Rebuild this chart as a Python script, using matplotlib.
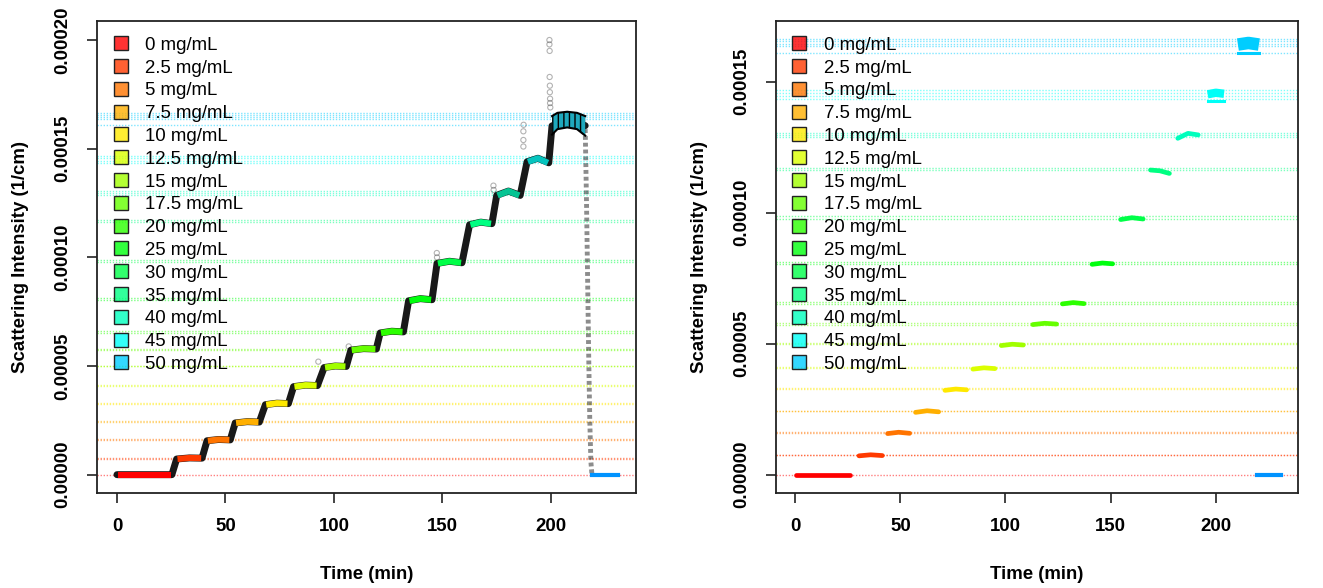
import colorsys
import matplotlib.pyplot as plt
from matplotlib.lines import Line2D

plt.rcParams['font.family'] = ['Liberation Sans', 'DejaVu Sans']

conc = ['0', '2.5', '5', '7.5', '10', '12.5', '15', '17.5', '20', '25', '30', '35', '40', '45', '50']
labels = [c + ' mg/mL' for c in conc]

# rainbow palette, one hue per concentration plus one for the buffer run at the end
cols = [colorsys.hsv_to_rgb(i * 13.7 / 360, 1, 1) for i in range(16)]

# dotted reference levels per concentration (1e-5 1/cm)
ref_levels = [
    [0.0],
    [0.74, 0.77],
    [1.60, 1.64],
    [2.42, 2.45],
    [3.27, 3.30],
    [4.08, 4.12],
    [4.98, 5.02],
    [5.72, 5.78],
    [6.51, 6.60],
    [8.04, 8.13],
    [9.77, 9.87],
    [11.63, 11.72],
    [12.88, 12.97, 13.05],
    [14.33, 14.45, 14.58, 14.67],
    [16.10, 16.35, 16.45, 16.55, 16.65],
]

# left panel: full trace, plateau start / end times (min) and levels (1e-5 1/cm)
l_t0 = [0.0, 27.5, 41.5, 54.5, 68.4, 81.4, 95.5, 107.8, 121.3, 134.4, 147.5, 162.5, 175.0, 189.0, 200.5]
l_t1 = [25.3, 39.2, 52.2, 65.6, 79.0, 92.4, 105.7, 119.5, 132.0, 145.2, 159.0, 172.8, 185.8, 199.0, 215.8]
l_y0 = [0.0, 0.72, 1.56, 2.38, 3.22, 4.05, 4.93, 5.73, 6.52, 8.00, 9.72, 11.50, 12.85, 14.40, 16.05]
l_ym = [0.0, 0.77, 1.62, 2.44, 3.29, 4.12, 5.00, 5.80, 6.60, 8.10, 9.82, 11.62, 13.05, 14.56, 16.33]
l_y1 = [0.0, 0.76, 1.60, 2.42, 3.27, 4.10, 4.98, 5.78, 6.57, 8.05, 9.75, 11.55, 12.85, 14.35, 16.06]

# 50 mg/mL band in the left panel
band_t = [200.5, 203.0, 207.5, 212.0, 215.8]
band_hi = [16.50, 16.65, 16.70, 16.65, 16.50]
band_lo = [15.65, 15.90, 15.98, 15.90, 15.60]

# drop back to buffer and the buffer run
drop_t = [215.8, 216.4, 216.9, 217.4, 217.9, 218.4, 218.9]
drop_y = [15.9, 12.5, 9.0, 5.5, 2.5, 0.6, 0.0]
buf_t = [218.9, 230.7]
buf_y = [0.0, 0.0]

# stray points
spike_t = [92.8, 106.8, 147.4, 147.5, 173.5, 173.6, 187.3, 187.3, 187.3, 187.4,
           199.3, 199.3, 199.4, 199.4, 199.5, 199.5, 199.6, 199.6, 199.7]
spike_y = [5.2, 5.9, 10.2, 10.0, 13.3, 13.1, 15.1, 15.4, 15.8, 16.1,
           20.0, 19.8, 19.5, 18.3, 17.9, 17.6, 17.3, 17.1, 16.9]

# right panel: selected segments
r_t0 = [0.5, 30.3, 43.9, 57.2, 71.2, 84.5, 98.0, 113.0, 127.1, 141.2, 154.8, 169.0, 182.0, 196.2, 210.6]
r_t1 = [25.8, 41.4, 54.4, 68.2, 81.5, 95.0, 108.5, 124.3, 137.4, 151.0, 165.5, 178.0, 191.7, 204.0, 220.6]
r_y0 = [0.0, 0.72, 1.57, 2.38, 3.22, 4.03, 4.93, 5.73, 6.52, 8.03, 9.74, 11.63, 12.84, 14.52, 16.42]
r_ym = [0.0, 0.76, 1.62, 2.44, 3.27, 4.08, 4.98, 5.78, 6.57, 8.08, 9.81, 11.60, 13.03, 14.58, 16.48]
r_y1 = [0.0, 0.73, 1.58, 2.40, 3.24, 4.05, 4.95, 5.75, 6.53, 8.05, 9.76, 11.50, 12.97, 14.54, 16.42]
r_thin_t = [[196.2, 204.0], [210.6, 220.6]]
r_thin_y = [14.28, 16.08]
r_buf_t = [219.5, 231.0]

E = 1e-5
xticks = [0, 50, 100, 150, 200]


def style_axes(ax, yticks, ylim):
    ax.set_xlim(-9.2, 239.2)
    ax.set_ylim(ylim)
    ax.set_xticks(xticks)
    ax.set_yticks(yticks)
    ax.set_yticklabels(['%.5f' % v for v in yticks])
    ax.tick_params(length=7.5, width=1.2, pad=11, labelsize=13.4, color='#222')
    plt.setp(ax.get_xticklabels(), fontweight='bold')
    plt.setp(ax.get_yticklabels(), fontweight='bold', rotation=90, va='center')
    for s in ax.spines.values():
        s.set_linewidth(1.3)
        s.set_color('#222')
    ax.set_xlabel('Time (min)', fontsize=13.4, fontweight='bold')
    ax.set_ylabel('Scattering Intensity (1/cm)', fontsize=13.4, fontweight='bold')
    for k, lv in enumerate(ref_levels):
        for v in lv:
            ax.axhline(v * E, color=cols[k], ls=(0, (1, 1.2)), lw=1.0, alpha=0.5, zorder=1)
    handles = [Line2D([], [], ls='none', marker='s', ms=9.5, mfc=cols[k] + (0.8,),
                      mec='#222', mew=1.0) for k in range(len(labels))]
    ax.legend(handles, labels, loc='upper left', bbox_to_anchor=(0.027, 0.966),
              frameon=False, fontsize=13.4, borderaxespad=0, borderpad=0,
              handlelength=1.0, handletextpad=0.81, labelspacing=0.31)


fig = plt.figure(figsize=(13.23, 5.88), dpi=100)
ax1 = fig.add_axes([97 / 1323, 95.3 / 588, 539 / 1323, 472 / 588])
ax2 = fig.add_axes([776 / 1323, 95.3 / 588, 522 / 1323, 472 / 588])

# ---- left: raw trace
tr_t, tr_y = [], []
for k in range(len(l_t0)):
    tr_t += [l_t0[k], (l_t0[k] + l_t1[k]) / 2, l_t1[k]]
    tr_y += [l_y0[k], l_ym[k], l_y1[k]]
ax1.plot(tr_t, [v * E for v in tr_y], color='black', lw=5.0, alpha=0.9,
         solid_capstyle='round', zorder=2)
ax1.plot(drop_t, [v * E for v in drop_y], color='black', lw=3.5, alpha=0.45,
         ls=(0, (0.8, 0.6)), zorder=2)
ax1.scatter(spike_t, [v * E for v in spike_y], s=14, facecolor='none',
            edgecolor='black', alpha=0.3, lw=0.8, zorder=2)
for k in range(len(l_t0) - 1):
    ax1.plot([l_t0[k] + 0.4, (l_t0[k] + l_t1[k]) / 2, l_t1[k] - 0.4],
             [l_y0[k] * E, l_ym[k] * E, l_y1[k] * E],
             color=cols[k], lw=4.4, alpha=0.75 if k >= 12 else 1.0,
             solid_capstyle='butt', zorder=3)
ax1.fill_between(band_t, [v * E for v in band_lo], [v * E for v in band_hi],
                 facecolor='#1fa9bd', edgecolor='black', hatch='|||', lw=0, zorder=3)
ax1.plot(band_t, [v * E for v in band_hi], color='black', lw=1.5, zorder=3)
ax1.plot(band_t, [v * E for v in band_lo], color='black', lw=1.5, zorder=3)
ax1.plot(buf_t, buf_y, color=cols[15], lw=3.0, zorder=3)
style_axes(ax1, [0, 5e-5, 1e-4, 1.5e-4, 2e-4], (-0.83e-5, 20.89e-5))

# ---- right: selected plateau segments
for k in range(len(r_t0)):
    lw, cap = 3.4, 'round'
    if k == 13:
        lw, cap = 6.0, 'butt'
    elif k == 14:
        lw, cap = 9.0, 'butt'
    ax2.plot([r_t0[k], (r_t0[k] + r_t1[k]) / 2, r_t1[k]],
             [r_y0[k] * E, r_ym[k] * E, r_y1[k] * E],
             color=cols[k], lw=lw, solid_capstyle=cap, zorder=3)
for tt, yy, k in zip(r_thin_t, r_thin_y, [13, 14]):
    ax2.plot(tt, [yy * E, yy * E], color=cols[k], lw=2.2, zorder=3)
ax2.plot(r_buf_t, [0, 0], color=cols[15], lw=3.0, zorder=3)
style_axes(ax2, [0, 5e-5, 1e-4, 1.5e-4], (-0.687e-5, 17.33e-5))

for ax, off in ((ax1, 539), (ax2, 522)):
    ax.yaxis.set_label_coords(-68 / off, 0.5)
    ax.xaxis.set_label_coords(0.5, -0.156)

fig.savefig('out.png', dpi=100)
